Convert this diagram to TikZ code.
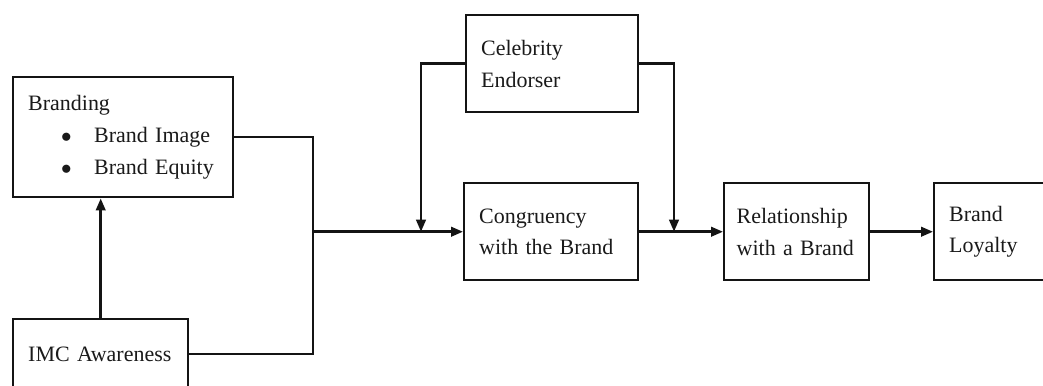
\documentclass[tikz,border=0pt]{standalone}
\usepackage{fontspec}
\setmainfont{Liberation Serif}
\usetikzlibrary{arrows.meta}
\definecolor{FWLine}{HTML}{141414}
\definecolor{FWText}{HTML}{1A1A1A}
\tikzset{
  box/.style={draw=FWLine,line width=1.4pt,anchor=north west,align=left,inner xsep=0.3cm,inner ysep=0pt,minimum height=1.94cm,text=FWText,font=\fontsize{12.5}{18}\selectfont},
  link/.style={draw=FWLine,line width=1.4pt},
  arr/.style={link,-{Triangle[length=2.4mm,width=1.9mm]}}
}

\begin{document}
\begin{tikzpicture}[x=0.02cm,y=-0.02cm]
\path[use as bounding box] (0,0) rectangle (1043,385);
\clip (0,0) rectangle (1043,385);
\fill[white] (0,0) rectangle (1043,385);
\node[box,text width=3.8cm,minimum height=2.4cm] (brand) at (12,76) {Branding\\\hspace*{0.66cm}\makebox[0.66cm][l]{$\bullet$}Brand Image\\\hspace*{0.66cm}\makebox[0.66cm][l]{$\bullet$}Brand Equity};
\node[box,text width=2.9cm,minimum height=1.4cm] (imc) at (12,318) {IMC Awareness};
\node[box,text width=2.84cm] (celeb) at (465,14) {Celebrity\\Endorser};
\node[box,text width=2.88cm] (cong) at (463,182) {Congruency\\with the Brand};
\node[box,inner xsep=0.25cm,text width=2.4cm] (rel) at (723,182) {Relationship\\with a Brand};
\node[box,text width=1.8cm] (loyal) at (933,182) {Brand\\Loyalty};
\coordinate (jx) at (313,0);
\coordinate (lx) at (421,0);
\coordinate (rx) at (674,0);
\draw[arr] (imc.north) -- (imc.north |- brand.south);
\draw[link] (brand.east) -| (imc.east -| jx) -- (imc.east);
\draw[arr] (cong.west -| jx) -- (cong.west);
\draw[arr] (celeb.west) -| (cong.west -| lx);
\draw[arr] (celeb.east) -| (cong.east -| rx);
\draw[arr] (cong.east) -- (rel.west);
\draw[arr] (rel.east) -- (loyal.west);
\end{tikzpicture}
\end{document}
